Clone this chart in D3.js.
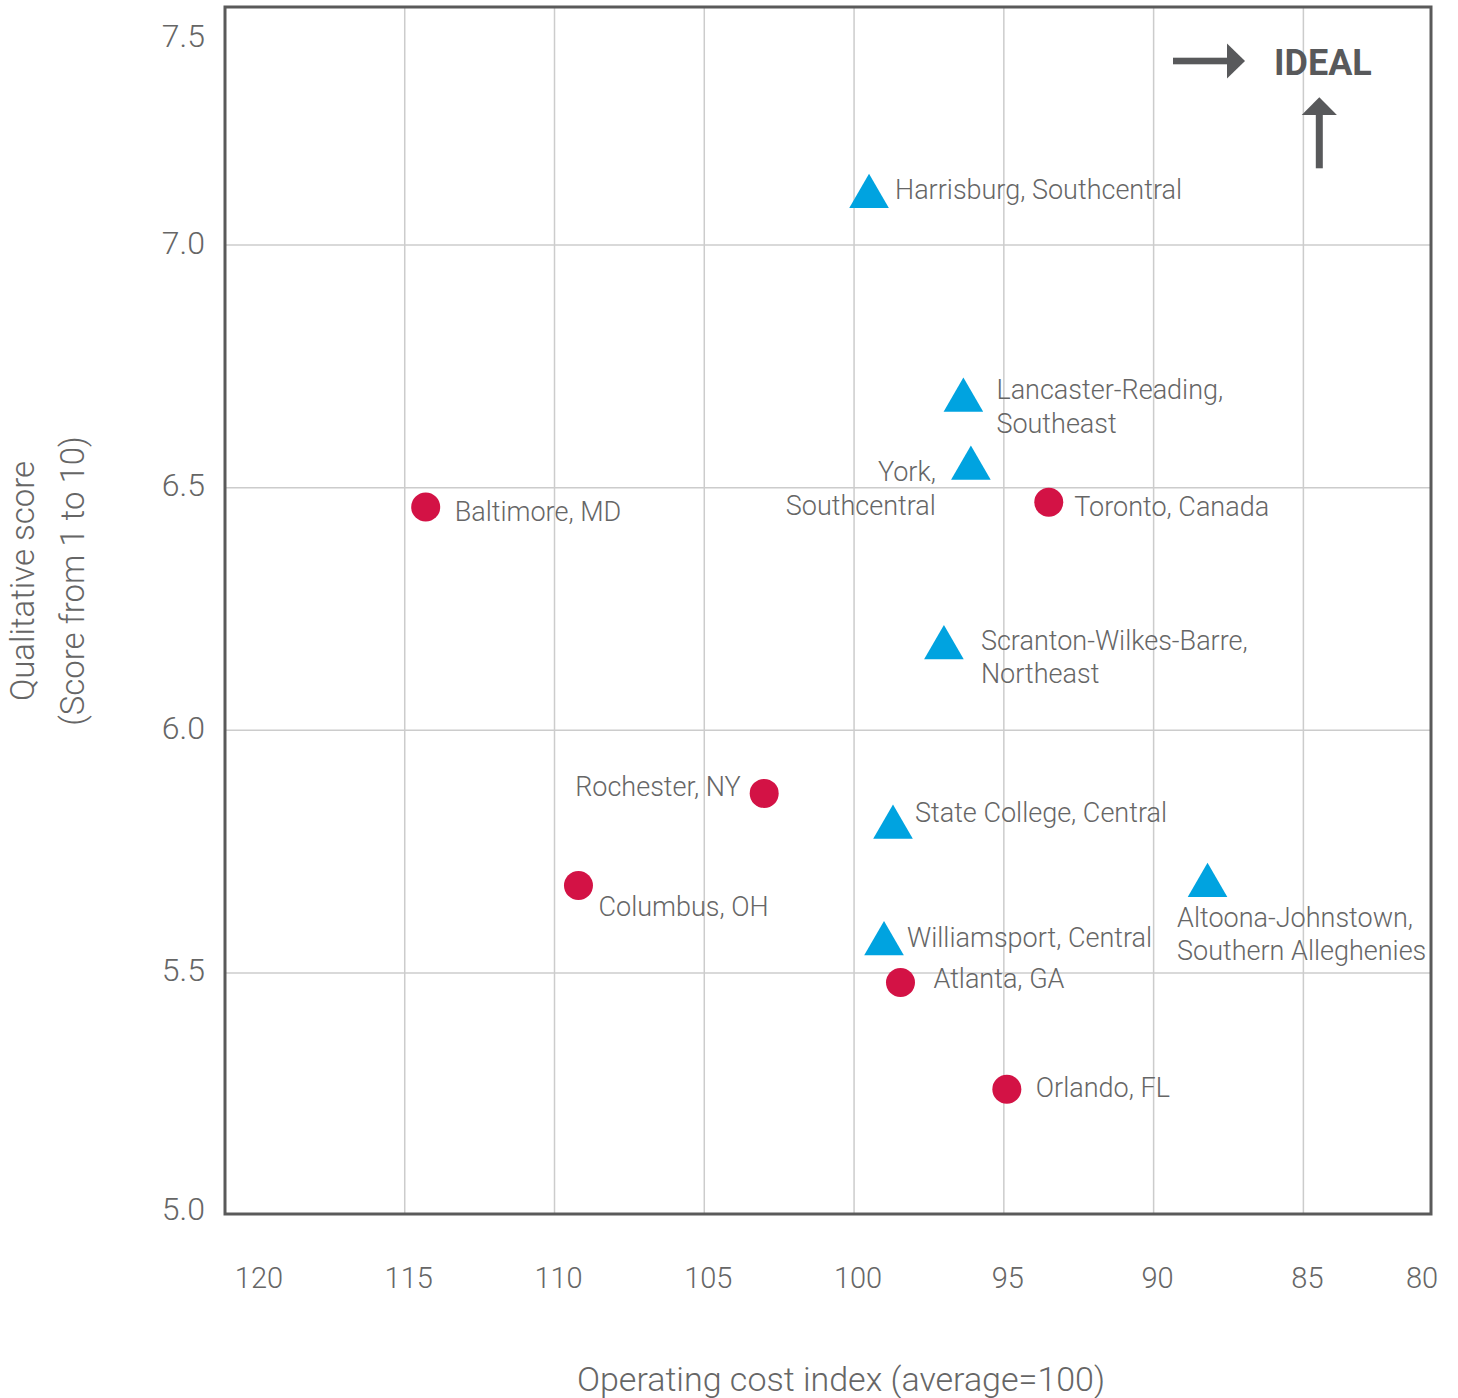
<!DOCTYPE html>
<html>
<head>
<meta charset="utf-8">
<script src="https://cdn.jsdelivr.net/npm/d3@7"></script>
<style>
  body { margin: 0; background: #fff; }
  svg { display: block; }
  text { font-family: Roboto, "Open Sans", sans-serif; }
</style>
</head>
<body>
<svg id="chart" width="1458" height="1398"></svg>
<script>
// Pennsylvania regions (triangles)
const paRegions = [
  "Harrisburg, Southcentral",
  "Lancaster-Reading, Southeast",
  "York, Southcentral",
  "Scranton-Wilkes-Barre, Northeast",
  "State College, Central",
  "Williamsport, Central",
  "Altoona-Johnstown, Southern Alleghenies"
];
const paCost  = [99.5, 96.35, 96.1, 97.0, 98.7, 99.0, 88.2];
const paScore = [7.10, 6.68, 6.54, 6.17, 5.80, 5.56, 5.68];

// Peer cities (circles)
const peerCities = [
  "Baltimore, MD",
  "Toronto, Canada",
  "Rochester, NY",
  "Columbus, OH",
  "Atlanta, GA",
  "Orlando, FL"
];
const peerCost  = [114.3, 93.5, 103.0, 109.2, 98.45, 94.9];
const peerScore = [6.46, 6.47, 5.87, 5.68, 5.48, 5.26];

// Axes
const xTickValues = [120, 115, 110, 105, 100, 95, 90, 85, 80];
const xGridValues = [115, 110, 105, 100, 95, 90, 85];
const yTickValues = [5.0, 5.5, 6.0, 6.5, 7.0, 7.5];
const yGridValues = [5.5, 6.0, 6.5, 7.0];
const xTitle = "Operating cost index (average=100)";
const yTitleLines = ["Qualitative score", "(Score from 1 to 10)"];

// Label placement: line breaks, anchor and offset from the marker
const labelLayout = {
  "Harrisburg, Southcentral": { lines: ["Harrisburg, Southcentral"], anchor: "start", dx: 26, dy: 2 },
  "Lancaster-Reading, Southeast": { lines: ["Lancaster-Reading,", "Southeast"], anchor: "start", dx: 33, dy: -1 },
  "York, Southcentral": { lines: ["York,", "Southcentral"], anchor: "end", dx: -35, dy: 13 },
  "Scranton-Wilkes-Barre, Northeast": { lines: ["Scranton-Wilkes-Barre,", "Northeast"], anchor: "start", dx: 37, dy: 2 },
  "State College, Central": { lines: ["State College, Central"], anchor: "start", dx: 22, dy: -5 },
  "Williamsport, Central": { lines: ["Williamsport, Central"], anchor: "start", dx: 23, dy: 3 },
  "Altoona-Johnstown, Southern Alleghenies": { lines: ["Altoona-Johnstown,", "Southern Alleghenies"], anchor: "start", dx: -30.5, dy: 41 },
  "Baltimore, MD": { lines: ["Baltimore, MD"], anchor: "start", dx: 29, dy: 14 },
  "Toronto, Canada": { lines: ["Toronto, Canada"], anchor: "start", dx: 25.5, dy: 14 },
  "Rochester, NY": { lines: ["Rochester, NY"], anchor: "end", dx: -23.5, dy: 3 },
  "Columbus, OH": { lines: ["Columbus, OH"], anchor: "start", dx: 20, dy: 30 },
  "Atlanta, GA": { lines: ["Atlanta, GA"], anchor: "start", dx: 33, dy: 5 },
  "Orlando, FL": { lines: ["Orlando, FL"], anchor: "start", dx: 29, dy: 8 }
};

const frame = { left: 225, right: 1431, top: 7, bottom: 1214 };
const textColor = "#666666";
const blue = "#00A3E0";
const red = "#D31245";

const svg = d3.select("#chart");

const x = d3.scaleLinear().domain([121, 80.74]).range([frame.left, frame.right]);
const y = d3.scaleLinear().domain([5, 7.5]).range([1215.5, 2.5]);

// Grid
const grid = svg.append("g").attr("stroke", "#cccccc").attr("stroke-width", 1.5);
grid.selectAll("line.gx").data(xGridValues).join("line")
  .attr("class", "gx")
  .attr("x1", d => x(d)).attr("x2", d => x(d))
  .attr("y1", frame.top).attr("y2", frame.bottom);
grid.selectAll("line.gy").data(yGridValues).join("line")
  .attr("class", "gy")
  .attr("x1", frame.left).attr("x2", frame.right)
  .attr("y1", d => y(d)).attr("y2", d => y(d));

// Plot frame
svg.append("rect")
  .attr("x", frame.left).attr("y", frame.top)
  .attr("width", frame.right - frame.left).attr("height", frame.bottom - frame.top)
  .attr("fill", "none").attr("stroke", "#5a5a5a").attr("stroke-width", 3);

// X tick labels
svg.append("g").selectAll("text").data(xTickValues).join("text")
  .attr("x", d => Math.min(x(d) + 4, 1422))
  .attr("y", 1288)
  .attr("text-anchor", "middle")
  .attr("font-size", 29).attr("font-weight", 300)
  .attr("fill", textColor)
  .text(d => d);

// Y tick labels
const fmt = d3.format(".1f");
svg.append("g").selectAll("text").data(yTickValues).join("text")
  .attr("x", 205)
  .attr("y", d => Math.min(Math.max(y(d) - 3, 35), 1208) + 11.5)
  .attr("text-anchor", "end")
  .attr("font-size", 32).attr("font-weight", 300)
  .attr("fill", textColor)
  .text(d => fmt(d));

// Axis titles
svg.append("text")
  .attr("x", 841).attr("y", 1391)
  .attr("text-anchor", "middle")
  .attr("font-size", 34).attr("font-weight", 300)
  .attr("fill", textColor)
  .text(xTitle);

svg.append("g").selectAll("text").data(yTitleLines).join("text")
  .attr("transform", (d, i) => `translate(${34 + i * 50},581) rotate(-90)`)
  .attr("text-anchor", "middle")
  .attr("font-size", 33).attr("font-weight", 300)
  .attr("fill", textColor)
  .text(d => d);

// IDEAL direction marker
const ideal = svg.append("g").attr("fill", "#58595b");
ideal.append("rect").attr("x", 1173).attr("y", 57.7).attr("width", 56).attr("height", 6.6);
ideal.append("path").attr("d", "M1227,43.5 L1245,61 L1227,78.5 Z");
ideal.append("rect").attr("x", 1315.8).attr("y", 113).attr("width", 7).attr("height", 55.3);
ideal.append("path").attr("d", "M1301.7,115 L1319.3,97.3 L1336.9,115 Z");
ideal.append("text")
  .attr("x", 1274).attr("y", 75)
  .attr("font-size", 36).attr("font-weight", 700)
  .text("IDEAL");

// Markers
const paData = paRegions.map((name, i) => ({ name, cost: paCost[i], score: paScore[i] }));
const peerData = peerCities.map((name, i) => ({ name, cost: peerCost[i], score: peerScore[i] }));

svg.append("g").selectAll("path").data(paData).join("path")
  .attr("transform", d => `translate(${x(d.cost)},${y(d.score)})`)
  .attr("d", d3.symbol().type(d3.symbolTriangle).size(680))
  .attr("fill", blue);

svg.append("g").selectAll("circle").data(peerData).join("circle")
  .attr("cx", d => x(d.cost)).attr("cy", d => y(d.score))
  .attr("r", 14.5)
  .attr("fill", red);

// Point labels
const lineHeight = 33.5;
svg.append("g").selectAll("text").data(paData.concat(peerData)).join("text")
  .each(function (d) {
    const L = labelLayout[d.name];
    const t = d3.select(this)
      .attr("x", x(d.cost) + L.dx)
      .attr("y", y(d.score) + L.dy)
      .attr("text-anchor", L.anchor)
      .attr("font-size", 27).attr("font-weight", 300)
      .attr("fill", textColor);
    L.lines.forEach((line, i) => {
      t.append("tspan")
        .attr("x", x(d.cost) + L.dx)
        .attr("dy", i === 0 ? 0 : lineHeight)
        .text(line);
    });
  });
</script>
</body>
</html>
